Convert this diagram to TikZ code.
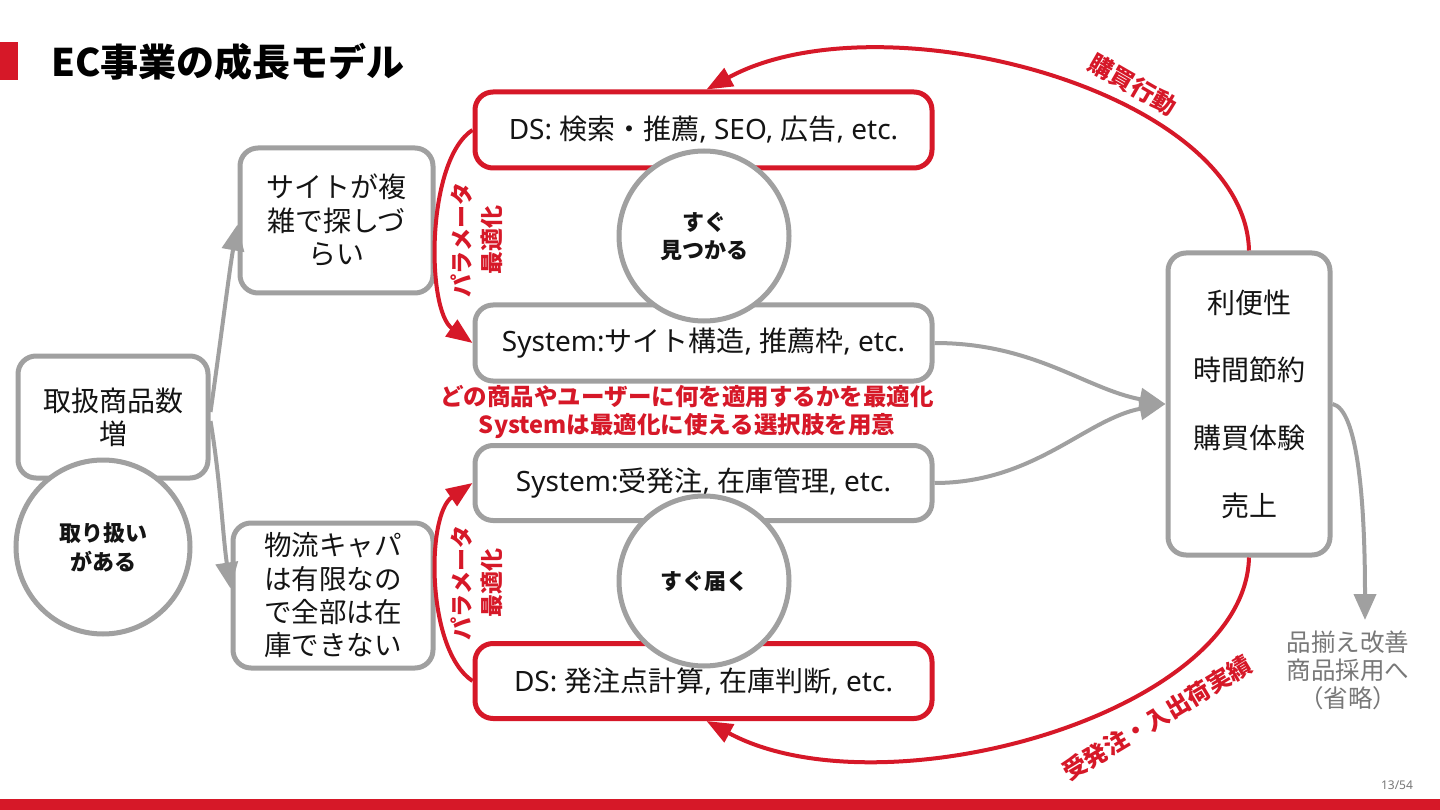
\documentclass[tikz,border=0pt]{standalone}
\usepackage{fontspec}
\setmainfont{Noto Sans CJK JP}
\newfontfamily\lat{Noto Sans}
\usetikzlibrary{arrows.meta}
\definecolor{ecred}{RGB}{214,24,40}
\definecolor{ecgray}{RGB}{160,160,160}
\definecolor{ectext}{RGB}{20,20,20}
\definecolor{eclabel}{RGB}{120,120,120}
\begin{document}
\begin{tikzpicture}[x=1pt,y=-1pt,
 ecbox/.style={draw=ecgray,line width=5pt,rounded corners=18pt,fill=white,inner sep=0pt,align=center,text=ectext},
 ecredbox/.style={ecbox,draw=ecred},
 eccirc/.style={circle,draw=ecgray,line width=5pt,fill=white,inner sep=0pt,align=center,text=ectext,font=\bfseries\fontsize{22}{28}\selectfont},
 garrow/.style={draw=ecgray,line width=4pt,-{Triangle[length=26pt,width=22pt]}},
 rarrow/.style={draw=ecred,line width=4pt,-{Triangle[length=26pt,width=20pt]}},
 mainfont/.style={font=\fontsize{28}{34}\selectfont},
 redlabel/.style={text=ecred,font=\bfseries\fontsize{23}{30}\selectfont,align=center,inner sep=0pt},
]
\useasboundingbox (0,0) rectangle (1440,810);
\fill[white] (0,0) rectangle (1440,810);
% title
\fill[ecred] (0,42) rectangle (18,80);
\node[anchor=west,inner sep=0pt,font=\bfseries\fontsize{38}{40}\selectfont,text=black] (title) at (51,62) {EC事業の成長モデル};
% left boxes
\node[ecbox,minimum width=190pt,minimum height=122pt,font=\fontsize{28}{33}\selectfont] (ext) at (113,417) {取扱商品数\\増};
\node[eccirc,minimum size=174pt,font=\bfseries\fontsize{22}{29}\selectfont] (c0) at (103,547) {取り扱い\\がある};
\node[ecbox,minimum width=193pt,minimum height=145pt,font=\fontsize{28}{33.5}\selectfont] (site) at (336.5,220.5) {サイトが複\\雑で探しづ\\らい};
\node[ecbox,minimum width=200pt,minimum height=145pt,font=\fontsize{27.5}{33.3}\selectfont] (logi) at (333,595.5) {物流キャパ\\は有限なの\\で全部は在\\庫できない};
% middle boxes
\node[ecredbox,minimum width=457pt,minimum height=76pt,mainfont] (ds1) at (703.5,130) {{\lat DS: }検索・推薦{\lat , SEO, }広告{\lat , etc.}};
\node[ecbox,minimum width=457pt,minimum height=76pt,mainfont] (sys1) at (703.5,343) {{\lat System:}サイト構造{\lat , }推薦枠{\lat , etc.}};
\node[ecbox,minimum width=457pt,minimum height=75pt,mainfont] (sys2) at (703.5,483) {{\lat System:}受発注{\lat , }在庫管理{\lat , etc.}};
\node[ecredbox,minimum width=457pt,minimum height=75pt,mainfont] (ds2) at (703.5,681) {{\lat DS: }発注点計算{\lat , }在庫判断{\lat , etc.}};
\node[eccirc,minimum size=170pt] (c1) at (704,236) {すぐ\\見つかる};
\node[eccirc,minimum size=170pt] (c2) at (704,581) {すぐ届く};
\node[redlabel,font=\bfseries\fontsize{23.5}{28}\selectfont] (optlab) at (687,412) {どの商品やユーザーに何を適用するかを最適化\\Systemは最適化に使える選択肢を用意};
\node[redlabel,rotate=90] (p1) at (477,240) {パラメータ\\最適化};
\node[redlabel,rotate=90] (p2) at (477,583) {パラメータ\\最適化};
% right box
\node[ecbox,minimum width=162pt,minimum height=302pt,font=\fontsize{28}{67.7}\selectfont] (rb) at (1249,404) {利便性\\時間節約\\購買体験\\売上};
\coordinate (omit) at (1365,620);
\node[text=eclabel,align=center,inner sep=0pt,font=\fontsize{24.5}{28}\selectfont] (omitlab) at (1348,670) {品揃え改善\\商品採用へ\\（省略）};
% connectors left
\draw[garrow] ([yshift=5pt]ext.east) .. controls +(10,-70) and +(-8,45) .. ([yshift=-4pt]site.west);
\draw[garrow] ([yshift=-4pt]ext.east) .. controls +(10,60) and +(-8,-55) .. ([yshift=7pt]logi.west);
% red parameter arcs
\draw[rarrow] (ds1.west) .. controls (426,160) and (426,310) .. (sys1.west);
\draw[rarrow] (ds2.west) .. controls (426,650) and (426,515) .. (sys2.west);
% S curves
\draw[garrow] (sys1.east) .. controls +(100,0) and +(-80,-15) .. (rb.west);
\draw[garrow] (sys2.east) .. controls +(100,0) and +(-80,15) .. (rb.west);
% big red arcs
\draw[rarrow] (rb.north) .. controls (1245,90) and (880,-5) .. ([xshift=3pt]ds1.north);
\draw[rarrow] (rb.south) .. controls (1245,715) and (880,815) .. ([xshift=3pt]ds2.south);
\node[redlabel,rotate=-30,font=\bfseries\fontsize{24}{28}\selectfont] (buy) at (1133,85) {購買行動};
\node[redlabel,rotate=31,font=\bfseries\fontsize{24}{28}\selectfont] (ord) at (1157,718) {受発注・入出荷実績};
% right gray
\draw[garrow] (rb.east) .. controls +(25,5) and +(0,-120) .. (omit);
% footer
\node[text=eclabel,inner sep=0pt,font=\lat\fontsize{12}{14}\selectfont] (pg) at (1397,785) {13/54};
\fill[ecred] (0,799) rectangle (1440,810);
\end{tikzpicture}
\end{document}
